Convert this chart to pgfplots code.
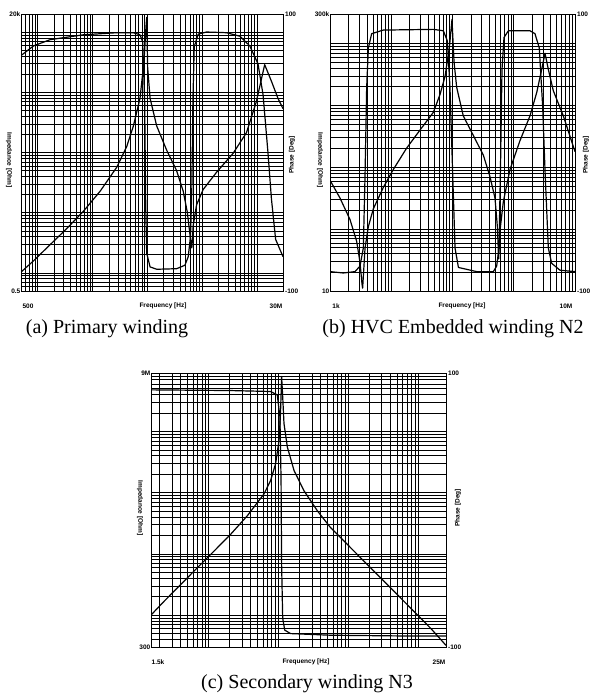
\documentclass[border=0pt]{standalone}
\usepackage{pgfplots}
\pgfplotsset{compat=1.18}
\usepackage{fontspec}
\setmainfont{Liberation Serif}
\newfontfamily\labfont{Liberation Sans}
\newcommand{\lab}{\labfont\bfseries\fontsize{6.5}{7}\selectfont}
\newcommand{\capf}{\rmfamily\fontsize{20}{22}\selectfont}

\begin{document}
\begin{tikzpicture}
\useasboundingbox (0pt,0pt) rectangle (599pt,-697pt);

% ---------------- (a) ----------------
\begin{axis}[scale only axis, xmode=log, ymode=log, grid=both,
  major grid style={black, line width=0.55pt}, minor grid style={black, line width=0.55pt},
  xticklabels={}, yticklabels={}, major tick length=0pt, minor tick length=0pt,
  axis line style={black, line width=0.8pt},
  at={(21pt,-14pt)}, anchor=north west, width=262pt, height=277pt,
  xmin=500, xmax=3e7, ymin=0.5, ymax=2e4]
\addplot[black, line width=1.2pt, line join=round, mark=none] coordinates {(500,1.03) (849,1.59) (1710,2.96) (3440,5.48) (6900,10.6) (13900,22.8) (27900,57) (42400,126) (56100,277) (74000,794) (87700,3380) (95300,12600) (98000,17600) (102000,2600) (113000,794) (149000,277) (226000,110) (344000,50) (454000,22.8) (538000,10.3) (618000,3.6) (653000,2.6) (691000,6.1) (796000,13.5) (1.05e6,24.3) (1.84e6,46.9) (3.69e6,96.8) (6.46e6,213) (9.78e6,697) (1.39e7,2880) (1.84e7,1540) (2.43e7,794) (3e7,535)};
\end{axis}
\begin{axis}[scale only axis, xmode=log, hide axis, ymin=-100, ymax=100,
  at={(21pt,-14pt)}, anchor=north west, width=262pt, height=277pt,
  xmin=500, xmax=3e7]
\addplot[black, line width=1.2pt, line join=round, mark=none] coordinates {(500,70) (849,77) (1710,81.5) (6900,85) (27900,86.5) (56100,86.5) (74000,85) (82800,80) (90000,36.6) (94000,-37.9) (98000,-72.7) (113000,-82.6) (149000,-84.3) (344000,-83.9) (488000,-81.4) (561000,-75.2) (618000,-60.2) (653000,-25.5) (682000,36.6) (722000,76.4) (853000,85.5) (1.21e6,87) (2.79e6,86.5) (4.89e6,84) (7.43e6,77) (1.05e7,64.0) (1.3e7,41.6) (1.6e7,-0.6) (1.84e7,-32.9) (2.2e7,-62.7) (3e7,-75.2)};
\end{axis}
\node[anchor=east, inner sep=0.5pt, font=\lab] at (21pt,-14pt) {20k};
\node[anchor=east, inner sep=0.5pt, font=\lab] at (21pt,-291pt) {0.5};
\node[anchor=west, inner sep=1pt, font=\lab] at (284pt,-14pt) {100};
\node[anchor=west, inner sep=1pt, font=\lab] at (284pt,-291pt) {-100};
\node[font=\lab] at (28pt,-306pt) {500};
\node[font=\lab] at (276pt,-306pt) {30M};
\node[font=\lab] at (163pt,-306pt) {Frequency [Hz]};
\node[font=\lab, rotate=-90] at (9pt,-160pt) {Impedance [Ohm]};
\node[font=\lab, rotate=90] at (292pt,-155pt) {Phase [Deg]};
\node[anchor=base, font=\capf] at (107pt,-333pt) {(a) Primary winding};

% ---------------- (b) ----------------
\begin{axis}[scale only axis, xmode=log, ymode=log, grid=both,
  major grid style={black, line width=0.55pt}, minor grid style={black, line width=0.55pt},
  xticklabels={}, yticklabels={}, major tick length=0pt, minor tick length=0pt,
  axis line style={black, line width=0.8pt},
  at={(330pt,-14pt)}, anchor=north west, width=245pt, height=277pt,
  xmin=1000, xmax=1e7, ymin=10, ymax=3e5]
\addplot[black, line width=1.2pt, line join=round, mark=none] coordinates {(1000,618) (1456,318) (2120,143) (2720,64) (3090,29) (3330,13) (3410,11.1) (3730,49) (4230,110) (5100,213) (7430,473) (10800,920) (17900,2050) (29400,3980) (48700,7730) (62500,15000) (75500,29300) (88800,84700) (98100,245000) (106000,49800) (117000,19600) (150000,6760) (219000,3260) (319000,1570) (409000,706) (494000,318) (540000,110) (567000,33) (597000,96) (676000,278) (869000,920) (1.26e6,2670) (1.84e6,6760) (2.37e6,16100) (2.86e6,38200) (3.24e6,69500) (3.67e6,38200) (4.43e6,17200) (6.45e6,6760) (1e7,1790)};
\end{axis}
\begin{axis}[scale only axis, xmode=log, hide axis, ymin=-100, ymax=100,
  at={(330pt,-14pt)}, anchor=north west, width=245pt, height=277pt,
  xmin=1000, xmax=1e7]
\addplot[black, line width=1.2pt, line join=round, mark=none] coordinates {(1000,-86) (1650,-87) (2560,-86) (3090,-82) (3500,-69) (3730,-17.4) (3970,47) (4230,75.5) (4790,85.8) (7430,88.4) (48700,88.9) (70800,87.9) (82400,80.6) (91000,47) (101000,-17.4) (110000,-69) (125000,-83) (248000,-86) (465000,-86) (526000,-82) (574000,-69) (611000,-4.5) (643000,60) (693000,83) (817000,87.9) (1.84e6,87.9) (2.22e6,85.8) (2.61e6,75.5) (2.96e6,34) (3.27e6,-17.4) (3.67e6,-69) (4.16e6,-80) (5.69e6,-85) (1e7,-86)};
\end{axis}
\node[anchor=east, inner sep=0.5pt, font=\lab] at (330pt,-14pt) {300k};
\node[anchor=east, inner sep=0.5pt, font=\lab] at (330pt,-291pt) {10};
\node[anchor=west, inner sep=1pt, font=\lab] at (576pt,-14pt) {100};
\node[anchor=west, inner sep=1pt, font=\lab] at (576pt,-291pt) {-100};
\node[font=\lab] at (336pt,-306pt) {1k};
\node[font=\lab] at (566pt,-306pt) {10M};
\node[font=\lab] at (462pt,-306pt) {Frequency [Hz]};
\node[font=\lab, rotate=-90] at (320pt,-160pt) {Impedance [Ohm]};
\node[font=\lab, rotate=90] at (586pt,-155pt) {Phase [Deg]};
\node[anchor=base, font=\capf] at (453pt,-333pt) {(b) HVC Embedded winding N2};

% ---------------- (c) ----------------
\begin{axis}[scale only axis, xmode=log, ymode=log, grid=both,
  major grid style={black, line width=0.55pt}, minor grid style={black, line width=0.55pt},
  xticklabels={}, yticklabels={}, major tick length=0pt, minor tick length=0pt,
  axis line style={black, line width=0.8pt},
  at={(151pt,-373pt)}, anchor=north west, width=295pt, height=274pt,
  xmin=1500, xmax=2.5e7, ymin=300, ymax=9e6]
\addplot[black, line width=1.2pt, line join=round, mark=none] coordinates {(1500,998) (2280,1650) (3950,3110) (6840,5850) (11900,11000) (20600,20700) (35700,41600) (61900,94600) (77200,157000) (91000,296000) (102000,716000) (107000,1.97e6) (111000,7.9e6) (115000,3.7e6) (120000,1.35e6) (134000,556000) (167000,230000) (232000,107000) (361000,50300) (558000,26700) (970000,14200) (1.68e6,7550) (2.92e6,4010) (5.07e6,2130) (8.79e6,1130) (1.52e7,601) (2.5e7,319)};
\end{axis}
\begin{axis}[scale only axis, xmode=log, hide axis, ymin=-100, ymax=100,
  at={(151pt,-373pt)}, anchor=north west, width=295pt, height=274pt,
  xmin=1500, xmax=2.5e7]
\addplot[black, line width=1.2pt, line join=round, mark=none] coordinates {(1500,87.7) (20600,87.2) (77200,86.5) (96200,84) (105000,68) (109000,21.5) (111000,-40) (115000,-79) (123000,-87.7) (149000,-90.2) (558000,-91.4) (5.07e6,-91.9) (2.5e7,-91.9)};
\end{axis}
\node[anchor=east, inner sep=0.5pt, font=\lab] at (151pt,-373pt) {9M};
\node[anchor=east, inner sep=0.5pt, font=\lab] at (151pt,-647pt) {300};
\node[anchor=west, inner sep=1pt, font=\lab] at (447pt,-373pt) {100};
\node[anchor=west, inner sep=1pt, font=\lab] at (447pt,-647pt) {-100};
\node[font=\lab] at (158pt,-662pt) {1.5k};
\node[font=\lab] at (439pt,-662pt) {25M};
\node[font=\lab] at (306pt,-662pt) {Frequency [Hz]};
\node[font=\lab, rotate=-90] at (140pt,-508pt) {Impedance [Ohm]};
\node[font=\lab, rotate=90] at (458pt,-508pt) {Phase [Deg]};
\node[anchor=base, font=\capf] at (307pt,-688pt) {(c) Secondary winding N3};
\end{tikzpicture}
\end{document}
